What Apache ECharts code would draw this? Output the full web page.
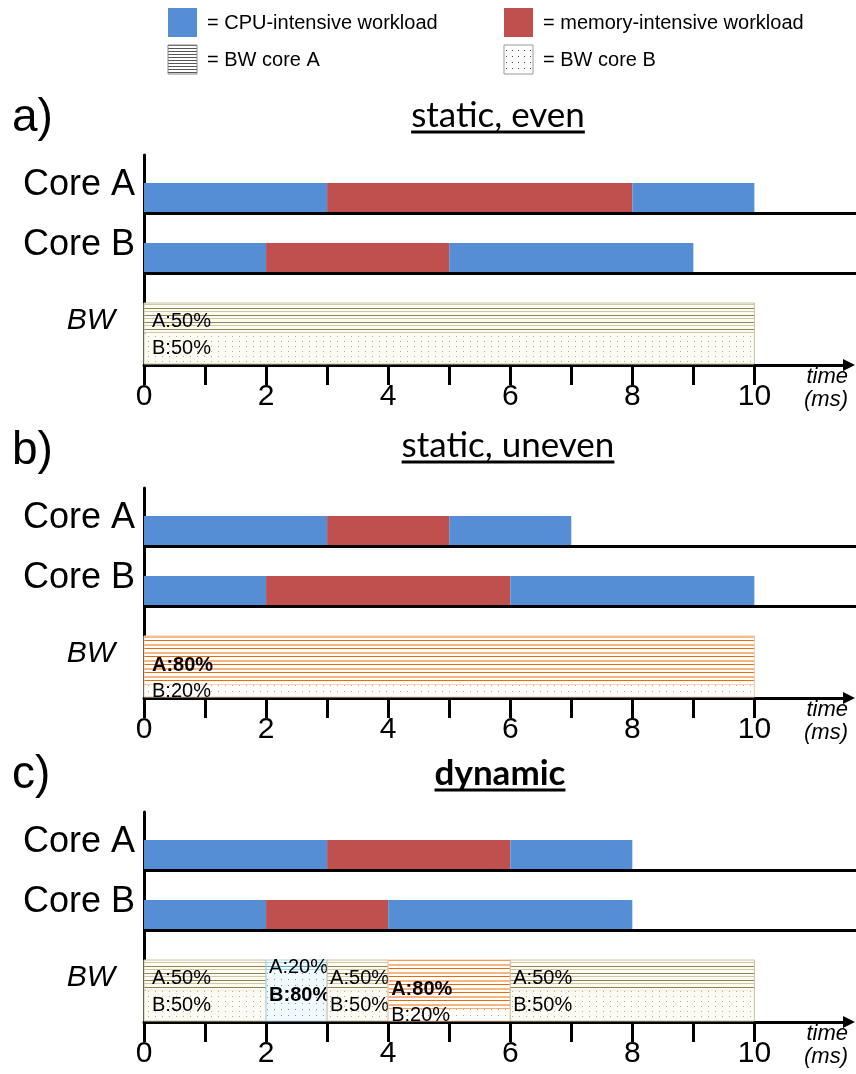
<!DOCTYPE html>
<html>
<head>
<meta charset="utf-8">
<script src="https://cdn.jsdelivr.net/npm/echarts@6/dist/echarts.min.js"></script>
<style>
  html, body { margin: 0; padding: 0; background: #fff; }
  #chart { width: 856px; height: 1074px; }
</style>
</head>
<body>
<div id="chart"></div>
<script>
// ---- time axis (ms) ----
const xTicks = [0, 1, 2, 3, 4, 5, 6, 7, 8, 9, 10];
const xTickLabels = [0, 2, 4, 6, 8, 10];

// ---- panel texts ----
const panelLetters = ['a)', 'b)', 'c)'];
const panelTitles = ['static, even', 'static, uneven', 'dynamic'];
const rowLabels = ['Core A', 'Core B', 'BW'];
const legendLabels = ['= CPU-intensive workload', '= memory-intensive workload', '= BW core A', '= BW core B'];

// ---- workload segments per core: [start ms, end ms, kind] ----
const coreA_even = [[0, 3, 'cpu'], [3, 8, 'mem'], [8, 10, 'cpu']];
const coreB_even = [[0, 2, 'cpu'], [2, 5, 'mem'], [5, 9, 'cpu']];
const coreA_uneven = [[0, 3, 'cpu'], [3, 5, 'mem'], [5, 7, 'cpu']];
const coreB_uneven = [[0, 2, 'cpu'], [2, 6, 'mem'], [6, 10, 'cpu']];
const coreA_dynamic = [[0, 3, 'cpu'], [3, 6, 'mem'], [6, 8, 'cpu']];
const coreB_dynamic = [[0, 2, 'cpu'], [2, 4, 'mem'], [4, 8, 'cpu']];

// ---- bandwidth split: [start ms, end ms, share A %, share B %] ----
const bw_even = [[0, 10, 50, 50]];
const bw_uneven = [[0, 10, 80, 20]];
const bw_dynamic = [[0, 2, 50, 50], [2, 3, 20, 80], [3, 4, 50, 50], [4, 6, 80, 20], [6, 10, 50, 50]];

const panels = [
  { cores: [coreA_even, coreB_even], bw: bw_even, title: panelTitles[0], bold: false },
  { cores: [coreA_uneven, coreB_uneven], bw: bw_uneven, title: panelTitles[1], bold: false },
  { cores: [coreA_dynamic, coreB_dynamic], bw: bw_dynamic, title: panelTitles[2], bold: true }
];

// ---- layout ----
const SANS = '"Liberation Sans", Arial, sans-serif';
const TITLE_FONT = 'Lato, "Open Sans", sans-serif';
const PANEL_TOPS = [155, 488, 812];
const TITLE_SHIFT = [0, 330, 658];
const GRID_LEFT = 144, GRID_RIGHT = 7, GRID_H = 210;
const X_MAX = 11.55;
// vertical bands inside each panel, in y-axis units (inverted, 1 unit = 1 px)
const ROW_BANDS = [[28, 58], [88, 118]];
const BW_BAND = [148, 209];
const ROW_LABEL_POS = [30, 90, 166];

const BLUE = '#558ed5';
const RED = '#c0504d';

// ---- fill patterns ----
function hatch(w, h, bg, lines) {
  const c = document.createElement('canvas');
  c.width = w; c.height = h;
  const g = c.getContext('2d');
  g.fillStyle = bg; g.fillRect(0, 0, w, h);
  lines.forEach(([y, th, col]) => { g.fillStyle = col; g.fillRect(0, y, w, th); });
  return { image: c, repeat: 'repeat' };
}
function dots(w, h, bg, col, pts) {
  const c = document.createElement('canvas');
  c.width = w; c.height = h;
  const g = c.getContext('2d');
  g.fillStyle = bg; g.fillRect(0, 0, w, h);
  g.fillStyle = col;
  pts.forEach(([x, y]) => g.fillRect(x, y, 1, 1));
  return { image: c, repeat: 'repeat' };
}

const SCHEMES = {
  olive: {
    a: hatch(8, 7, '#fbfaf3', [[0, 1, '#8f8553'], [3, 1, '#cfc8a4']]),
    b: dots(7, 5, '#fdfcf4', '#b5ab7c', [[1, 1]]),
    border: '#c9c29e'
  },
  orange: {
    a: hatch(8, 8, '#ffffff', [[0, 1, '#e46c0a'], [4, 2, '#f8b483']]),
    b: dots(7, 6, '#ffffff', '#f79646', [[1, 1]]),
    border: '#f5c7a2'
  },
  blue: {
    a: hatch(8, 7, '#f4fafc', [[0, 1, '#4bacc6'], [3, 1, '#a9d6e3']]),
    b: dots(7, 6, '#f2f9fc', '#4ba6c4', [[1, 1]]),
    border: '#a9d3e0'
  }
};
const LEGEND_HATCH = hatch(4, 3, '#ffffff', [[0, 1, '#555555']]);
const LEGEND_DOTS = dots(6, 6, '#ffffff', '#444444', [[2, 2]]);

// ---- axes ----
const grids = [], xAxes = [], yAxes = [], series = [];

panels.forEach((p, i) => {
  grids.push({ left: GRID_LEFT, right: GRID_RIGHT, top: PANEL_TOPS[i], height: GRID_H });
  xAxes.push({
    type: 'value', gridIndex: i, min: 0, max: X_MAX, position: 'bottom',
    axisLine: { show: true, onZero: false, lineStyle: { color: '#000', width: 3 }, symbol: ['none', 'triangle'], symbolSize: [12, 12] },
    axisTick: { show: true, customValues: xTicks, length: 20, lineStyle: { color: '#000', width: 3 } },
    axisLabel: { show: true, customValues: xTickLabels, margin: 17, color: '#000', fontSize: 30, fontFamily: SANS },
    splitLine: { show: false }
  });
  yAxes.push({
    type: 'value', gridIndex: i, min: 0, max: GRID_H, inverse: true,
    axisLine: { show: true, onZero: false, lineStyle: { color: '#000', width: 3 } },
    axisTick: { show: false },
    splitLine: { show: false },
    axisLabel: {
      show: true, customValues: ROW_LABEL_POS, margin: 9,
      formatter: v => {
        const k = ROW_LABEL_POS.indexOf(v);
        return k === 2 ? '{bw|' + rowLabels[k] + '}' : '{core|' + rowLabels[k] + '}';
      },
      rich: {
        core: { fontSize: 36, fontFamily: SANS, color: '#000' },
        bw: { fontSize: 30, fontFamily: SANS, fontStyle: 'italic', color: '#000', padding: [0, 20, 0, 0] }
      }
    }
  });

  // workload bars
  const items = [];
  p.cores.forEach((segs, r) => segs.forEach(s => items.push({ r, kind: s[2], v: [s[0], s[1]] })));
  series.push({
    type: 'custom', name: 'cores-' + i, xAxisIndex: i, yAxisIndex: i,
    data: items.map(d => d.v),
    encode: { x: [0, 1] },
    renderItem: (params, api) => {
      const d = items[params.dataIndex];
      const band = ROW_BANDS[d.r];
      const a = api.coord([api.value(0), band[0]]);
      const b = api.coord([api.value(1), band[1]]);
      return {
        type: 'rect',
        shape: { x: a[0], y: a[1], width: b[0] - a[0], height: b[1] - a[1] },
        style: { fill: d.kind === 'cpu' ? BLUE : RED }
      };
    },
    z: 3
  });

  // baseline under each core row, running to the right edge
  series.push({
    type: 'custom', name: 'baselines-' + i, xAxisIndex: i, yAxisIndex: i,
    data: ROW_BANDS.map(b => [0, b[1]]),
    renderItem: (params, api) => {
      const a = api.coord([0, api.value(1)]);
      return {
        type: 'line',
        shape: { x1: a[0], y1: a[1] + 0.5, x2: api.getWidth(), y2: a[1] + 0.5 },
        style: { stroke: '#000', lineWidth: 3 }
      };
    },
    z: 4
  });

  // bandwidth split cells
  series.push({
    type: 'custom', name: 'bw-' + i, xAxisIndex: i, yAxisIndex: i,
    data: p.bw,
    encode: { x: [0, 1] },
    renderItem: (params, api) => {
      const s = api.value(0), e = api.value(1), shA = api.value(2), shB = api.value(3);
      const sch = shA === shB ? SCHEMES.olive : (shA > shB ? SCHEMES.orange : SCHEMES.blue);
      const tl = api.coord([s, BW_BAND[0]]);
      const br = api.coord([e, BW_BAND[1]]);
      const h = br[1] - tl[1];
      const split = tl[1] + h * shA / (shA + shB);
      const w = br[0] - tl[0];
      const pad = s === 0 ? 8 : 3;
      const boldA = shA > shB, boldB = shB > shA;
      return {
        type: 'group',
        children: [
          { type: 'rect', shape: { x: tl[0], y: tl[1], width: w, height: split - tl[1] }, style: { fill: sch.a } },
          { type: 'rect', shape: { x: tl[0], y: split, width: w, height: br[1] - split }, style: { fill: sch.b } },
          { type: 'rect', shape: { x: tl[0], y: tl[1], width: w, height: h }, style: { fill: 'none', stroke: sch.border, lineWidth: 1 } },
          {
            type: 'text', x: tl[0] + pad, y: tl[1] + (split - tl[1]) * 0.6,
            style: { text: 'A:' + shA + '%', fontSize: 20, fontFamily: SANS, fontWeight: boldA ? 'bold' : 'normal', fill: '#000', align: 'left', verticalAlign: 'middle' }
          },
          {
            type: 'text', x: tl[0] + pad, y: split + (br[1] - split) * 0.45 + 1,
            style: { text: 'B:' + shB + '%', fontSize: 20, fontFamily: SANS, fontWeight: boldB ? 'bold' : 'normal', fill: '#000', align: 'left', verticalAlign: 'middle' }
          }
        ]
      };
    },
    z: 2
  });
});

// ---- free text: legend, panel letters, titles, axis unit ----
const measure = document.createElement('canvas').getContext('2d');
function textWidth(font, text) { measure.font = font; return measure.measureText(text).width; }

const graphics = [];
// legend
[[168, 8, BLUE, null], [504, 8, RED, null], [168, 45, LEGEND_HATCH, '#888'], [504, 45, LEGEND_DOTS, '#999']].forEach(([x, y, fill, stroke], k) => {
  graphics.push({ type: 'rect', shape: { x: x, y: y, width: 29, height: 29 }, style: { fill: fill, stroke: stroke || null, lineWidth: 1 } });
  graphics.push({ type: 'text', x: x + 39, y: y + 15, style: { text: legendLabels[k], fontSize: 20, fontFamily: SANS, fill: '#000', verticalAlign: 'middle' } });
});

const TITLE_CENTERS = [498, 508, 500];
panels.forEach((p, i) => {
  const off = PANEL_TOPS[i] - PANEL_TOPS[0];
  graphics.push({ type: 'text', x: 12, y: 118 + off, style: { text: panelLetters[i], fontSize: 46, fontFamily: SANS, fill: '#000', verticalAlign: 'middle' } });

  const tOff = TITLE_SHIFT[i];
  const weight = p.bold ? 'bold' : 'normal';
  const font = weight + ' 35px ' + TITLE_FONT;
  const tw = textWidth(font, p.title);
  graphics.push({ type: 'text', x: TITLE_CENTERS[i], y: 116 + tOff, style: { text: p.title, fontSize: 35, fontFamily: TITLE_FONT, fontWeight: weight, fill: '#000', align: 'center', verticalAlign: 'middle' } });
  graphics.push({ type: 'line', shape: { x1: TITLE_CENTERS[i] - tw / 2, y1: 132 + tOff, x2: TITLE_CENTERS[i] + tw / 2, y2: 132 + tOff }, style: { stroke: '#000', lineWidth: 3 } });

  graphics.push({ type: 'text', x: 848, y: 377 + off, style: { text: 'time', fontSize: 22, fontStyle: 'italic', fontFamily: SANS, fill: '#000', align: 'right', verticalAlign: 'middle' } });
  graphics.push({ type: 'text', x: 848, y: 400 + off, style: { text: '(ms)', fontSize: 22, fontStyle: 'italic', fontFamily: SANS, fill: '#000', align: 'right', verticalAlign: 'middle' } });
});

const chart = echarts.init(document.getElementById('chart'), null, { renderer: 'canvas' });
chart.setOption({
  animation: false,
  backgroundColor: '#fff',
  grid: grids,
  xAxis: xAxes,
  yAxis: yAxes,
  series: series,
  graphic: { elements: graphics }
});
</script>
</body>
</html>
